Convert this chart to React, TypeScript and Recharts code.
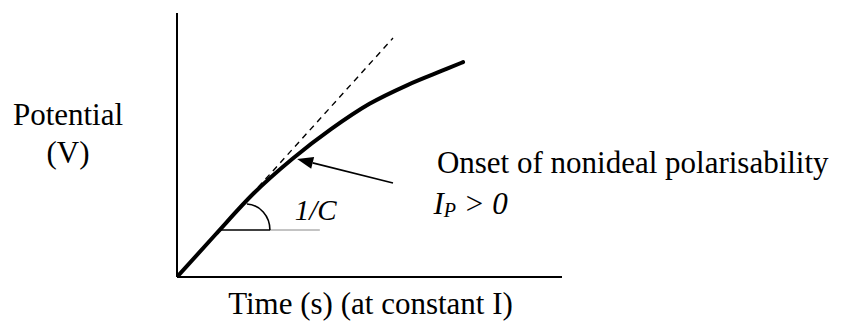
import {
  LineChart,
  Line,
  XAxis,
  YAxis,
  ReferenceLine,
  ReferenceDot,
  Label,
} from "recharts";

// potential vs time while charging at constant current
const time = [0, 10, 20, 30, 40, 50, 60, 70, 74.3];
const potential = [0, 16.1, 31.8, 44.8, 56, 65.6, 72.8, 78.8, 81.4];

// ideally polarisable electrode: straight line of slope 1/C
const idealTime = [0, 56.1];
const idealPotential = [0, 90.5];

// arrow pointing at the onset of the bend
const arrowFrom = [56.1, 35.6];
const arrowTo = [31.2, 44.7];

// slope marker: horizontal base and the arc centre
const baseLevel = 17.8;
const baseStart = 11.1;
const arcEnd = 24.2;
const baseEnd = 37.1;
const arcCentre = [17.9, 17.8];

// annotation anchors
const slopeLabelAt = [30.6, 21.6];
const onsetLabelAt = [67.5, 39.4];
const currentLabelAt = [66.6, 23.9];

const curve = time.map((t, i) => ({ t, v: potential[i] }));
const ideal = idealTime.map((t, i) => ({ t, v: idealPotential[i] }));

const FONT = "'Liberation Serif', 'Times New Roman', serif";
const FS = 31;

function Arrow(props: any) {
  const { x1, y1, x2, y2 } = props;
  const ang = Math.atan2(y2 - y1, x2 - x1);
  const len = 16;
  const half = 6;
  const bx = x2 - len * Math.cos(ang);
  const by = y2 - len * Math.sin(ang);
  const px = -Math.sin(ang) * half;
  const py = Math.cos(ang) * half;
  return (
    <g>
      <line x1={x1} y1={y1} x2={bx} y2={by} stroke="#000" strokeWidth={1.6} />
      <polygon
        points={`${x2},${y2} ${bx + px},${by + py} ${bx - px},${by - py}`}
        fill="#000"
      />
    </g>
  );
}

function SlopeArc(props: any) {
  const { cx, cy } = props;
  return (
    <path
      d={`M ${cx + 24} ${cy} A 24 26 0 0 0 ${cx + 1} ${cy - 26}`}
      fill="none"
      stroke="#000"
      strokeWidth={1.6}
    />
  );
}

function SlopeText(props: any) {
  const { cx, cy } = props;
  return (
    <text x={cx} y={cy} fontFamily={FONT} fontSize={29} fontStyle="italic" fill="#000">
      1/C
    </text>
  );
}

function OnsetText(props: any) {
  const { cx, cy } = props;
  return (
    <text x={cx} y={cy} fontFamily={FONT} fontSize={FS} fill="#000">
      Onset of nonideal polarisability
    </text>
  );
}

function CurrentText(props: any) {
  const { cx, cy } = props;
  return (
    <text x={cx} y={cy} fontFamily={FONT} fontSize={FS} fontStyle="italic" fill="#000">
      I
      <tspan fontSize={20} dy={3}>
        P
      </tspan>
      <tspan dy={-3}> &gt; 0</tspan>
    </text>
  );
}

export default function App() {
  return (
    <div style={{ position: "absolute", left: 0, top: 0, background: "#fff" }}>
      <LineChart
        width={843}
        height={321}
        margin={{ top: 13, right: 281, bottom: 0, left: 0 }}
      >
        <XAxis
          dataKey="t"
          type="number"
          domain={[0, 100]}
          allowDataOverflow
          tick={false}
          tickLine={false}
          axisLine={{ stroke: "#000", strokeWidth: 2 }}
          height={44}
        >
          <Label
            content={(p: any) => {
              const vb = p.viewBox;
              return (
                <text
                  x={vb.x + vb.width / 2 + 1}
                  y={vb.y + 37}
                  textAnchor="middle"
                  fontFamily={FONT}
                  fontSize={FS}
                  fill="#000"
                >
                  Time (s) (at constant I)
                </text>
              );
            }}
          />
        </XAxis>
        <YAxis
          type="number"
          domain={[0, 100]}
          allowDataOverflow
          tick={false}
          tickLine={false}
          axisLine={{ stroke: "#000", strokeWidth: 2 }}
          width={177}
        >
          <Label
            content={() => (
              <text fontFamily={FONT} fontSize={FS} fill="#000" textAnchor="middle">
                <tspan x={68} y={125}>
                  Potential
                </tspan>
                <tspan x={68} y={163}>
                  (V)
                </tspan>
              </text>
            )}
          />
        </YAxis>

        <Line
          data={ideal}
          dataKey="v"
          type="linear"
          stroke="#000"
          strokeWidth={1.4}
          strokeDasharray="6 5"
          dot={false}
          activeDot={false}
          isAnimationActive={false}
        />
        <Line
          data={curve}
          dataKey="v"
          type="monotone"
          stroke="#000"
          strokeWidth={4}
          strokeLinecap="round"
          dot={false}
          activeDot={false}
          isAnimationActive={false}
        />

        <ReferenceLine
          segment={[
            { x: baseStart, y: baseLevel },
            { x: arcEnd, y: baseLevel },
          ]}
          stroke="#000"
          strokeWidth={1.6}
        />
        <ReferenceLine
          segment={[
            { x: arcEnd, y: baseLevel },
            { x: baseEnd, y: baseLevel },
          ]}
          stroke="#888"
          strokeWidth={1}
        />
        <ReferenceDot x={arcCentre[0]} y={arcCentre[1]} r={0} shape={SlopeArc} />
        <ReferenceDot x={slopeLabelAt[0]} y={slopeLabelAt[1]} r={0} shape={SlopeText} />

        <ReferenceLine
          segment={[
            { x: arrowFrom[0], y: arrowFrom[1] },
            { x: arrowTo[0], y: arrowTo[1] },
          ]}
          shape={Arrow}
        />
        <ReferenceDot x={onsetLabelAt[0]} y={onsetLabelAt[1]} r={0} shape={OnsetText} />
        <ReferenceDot x={currentLabelAt[0]} y={currentLabelAt[1]} r={0} shape={CurrentText} />
      </LineChart>
    </div>
  );
}
